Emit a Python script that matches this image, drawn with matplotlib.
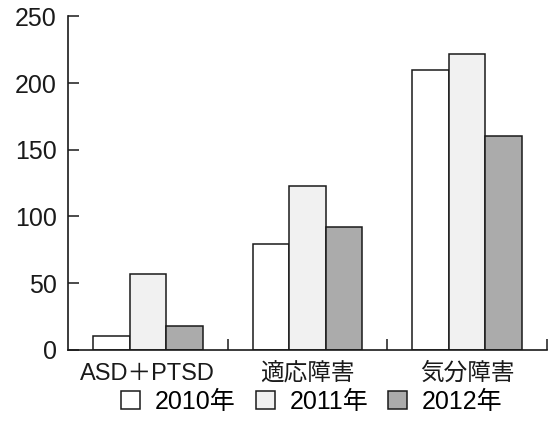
import matplotlib
matplotlib.use("Agg")
import matplotlib.pyplot as plt
import numpy as np

plt.rcParams['font.family'] = ['Liberation Sans', 'Noto Sans CJK JP', 'DejaVu Sans']

categories = ["ASD＋PTSD", "適応障害", "気分障害"]
series_names = ["2010年", "2011年", "2012年"]
v2010 = [10, 79, 210]
v2011 = [57, 123, 222]
v2012 = [18, 92, 160]
yticks = [0, 50, 100, 150, 200, 250]

fig = plt.figure(figsize=(5.52, 4.29), dpi=100)
ax = fig.add_axes([68/552, 1-349.7/429, (547-68)/552, (349.7-16.4)/429])

x = np.arange(len(categories))
w = 0.229
colors = ["white", "#f1f1f1", "#ababab"]
handles = []
for i, (vals, c) in enumerate(zip([v2010, v2011, v2012], colors)):
    b = ax.bar(x + (i-1)*w, vals, w, color=c, edgecolor="#1a1a1a", linewidth=1.1,
               label=series_names[i], zorder=2)
    handles.append(b)

ax.set_xlim(-0.5, len(categories)-0.5)
ax.set_ylim(0, 250)
ax.set_yticks(yticks)
ax.set_yticklabels([str(t) for t in yticks], fontsize=18, color="#1a1a1a")
ax.set_xticks(x)
ax.set_xticklabels(categories, fontsize=17, color="#1a1a1a")
ax.tick_params(axis='x', which='major', length=0, pad=9.5)
ax.set_xticks(np.arange(len(categories)) + 0.5, minor=True)
ax.tick_params(axis='x', which='minor', direction='in', length=8, width=1.1, color="#1a1a1a")
ax.tick_params(axis='y', direction='in', length=8, width=1.1, color="#1a1a1a", pad=8)
for s in ['top', 'right']:
    ax.spines[s].set_visible(False)
for s in ['left', 'bottom']:
    ax.spines[s].set_linewidth(1.2)
    ax.spines[s].set_color("#1a1a1a")

fig.legend(handles=handles, labels=series_names, loc='center',
           bbox_to_anchor=(312/552, 1-402/429), ncol=3, frameon=False,
           fontsize=18, handlelength=0.75, handleheight=0.75,
           handletextpad=0.6, columnspacing=0.8)

fig.savefig("out.png", dpi=100)
